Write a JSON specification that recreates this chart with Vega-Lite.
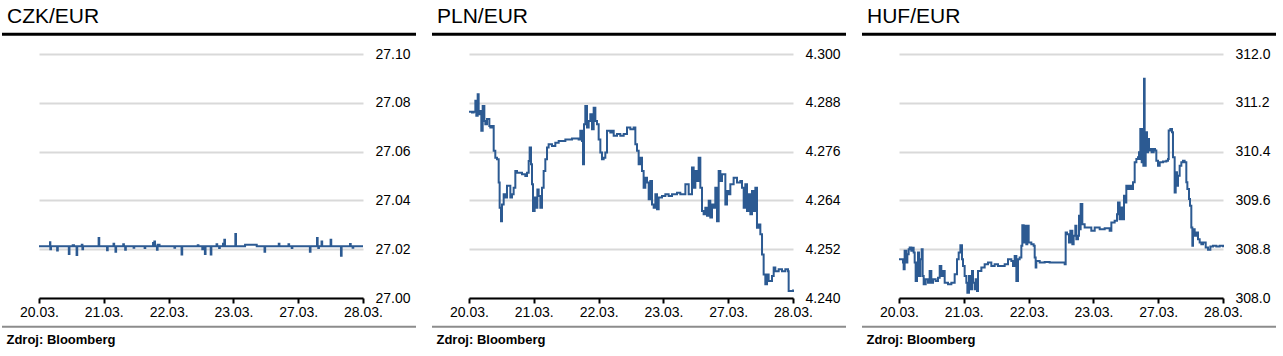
{
  "$schema": "https://vega.github.io/schema/vega-lite/v6.json",
  "padding": {"left": 0, "top": 5, "right": 0, "bottom": 0},
  "background": "white",
  "datasets": {
    "czk": [
      {"t":0.00,"rate":27.0212},{"t":0.16,"rate":27.0212},{"t":0.17,"rate":27.0228},{"t":0.175,"rate":27.0200},{"t":0.185,"rate":27.0212},{"t":0.27,"rate":27.0212},{"t":0.28,"rate":27.0195},{"t":0.29,"rate":27.0212},{"t":0.45,"rate":27.0212},{"t":0.46,"rate":27.0180},{"t":0.47,"rate":27.0212},{"t":0.52,"rate":27.0216},{"t":0.54,"rate":27.0212},{"t":0.58,"rate":27.0176},{"t":0.59,"rate":27.0212},{"t":0.66,"rate":27.0218},{"t":0.67,"rate":27.0200},{"t":0.68,"rate":27.0212},{"t":0.92,"rate":27.0246},{"t":0.93,"rate":27.0212},{"t":1.04,"rate":27.0212},{"t":1.05,"rate":27.0196},{"t":1.06,"rate":27.0212},{"t":1.15,"rate":27.0222},{"t":1.16,"rate":27.0212},{"t":1.18,"rate":27.0190},{"t":1.19,"rate":27.0212},{"t":1.30,"rate":27.0220},{"t":1.31,"rate":27.0212},{"t":1.33,"rate":27.0198},{"t":1.34,"rate":27.0212},{"t":1.45,"rate":27.0212},{"t":1.46,"rate":27.0206},{"t":1.47,"rate":27.0212},{"t":1.62,"rate":27.0212},{"t":1.63,"rate":27.0205},{"t":1.64,"rate":27.0212},{"t":1.76,"rate":27.0225},{"t":1.78,"rate":27.0232},{"t":1.79,"rate":27.0212},{"t":1.82,"rate":27.0198},{"t":1.83,"rate":27.0218},{"t":1.86,"rate":27.0212},{"t":2.08,"rate":27.0212},{"t":2.09,"rate":27.0206},{"t":2.10,"rate":27.0212},{"t":2.20,"rate":27.0178},{"t":2.21,"rate":27.0212},{"t":2.45,"rate":27.0216},{"t":2.46,"rate":27.0212},{"t":2.52,"rate":27.0200},{"t":2.53,"rate":27.0212},{"t":2.56,"rate":27.0180},{"t":2.57,"rate":27.0212},{"t":2.65,"rate":27.0178},{"t":2.66,"rate":27.0212},{"t":2.74,"rate":27.0220},{"t":2.75,"rate":27.0212},{"t":2.78,"rate":27.0205},{"t":2.79,"rate":27.0212},{"t":2.84,"rate":27.0222},{"t":2.86,"rate":27.0239},{"t":2.87,"rate":27.0212},{"t":3.03,"rate":27.0262},{"t":3.04,"rate":27.0212},{"t":3.18,"rate":27.0218},{"t":3.36,"rate":27.0212},{"t":3.48,"rate":27.0190},{"t":3.49,"rate":27.0212},{"t":3.70,"rate":27.0222},{"t":3.71,"rate":27.0212},{"t":3.85,"rate":27.0220},{"t":3.86,"rate":27.0212},{"t":3.90,"rate":27.0205},{"t":3.91,"rate":27.0212},{"t":4.18,"rate":27.0190},{"t":4.19,"rate":27.0212},{"t":4.29,"rate":27.0246},{"t":4.30,"rate":27.0212},{"t":4.31,"rate":27.0205},{"t":4.32,"rate":27.0212},{"t":4.36,"rate":27.0232},{"t":4.37,"rate":27.0212},{"t":4.50,"rate":27.0239},{"t":4.51,"rate":27.0212},{"t":4.66,"rate":27.0173},{"t":4.67,"rate":27.0212},{"t":4.80,"rate":27.0221},{"t":4.81,"rate":27.0212},{"t":4.84,"rate":27.0206},{"t":4.85,"rate":27.0212},{"t":5.00,"rate":27.0212}
    ],
    "pln": [
      {"t":0.000,"rate":4.2858},{"t":0.046,"rate":4.2856},{"t":0.072,"rate":4.2858},{"t":0.098,"rate":4.2885},{"t":0.113,"rate":4.2848},{"t":0.134,"rate":4.2901},{"t":0.149,"rate":4.2852},{"t":0.175,"rate":4.2860},{"t":0.190,"rate":4.2811},{"t":0.211,"rate":4.2872},{"t":0.237,"rate":4.2835},{"t":0.252,"rate":4.2827},{"t":0.278,"rate":4.2840},{"t":0.314,"rate":4.2823},{"t":0.329,"rate":4.2819},{"t":0.355,"rate":4.2823},{"t":0.381,"rate":4.2762},{"t":0.406,"rate":4.2745},{"t":0.432,"rate":4.2741},{"t":0.458,"rate":4.2684},{"t":0.473,"rate":4.2622},{"t":0.494,"rate":4.2589},{"t":0.509,"rate":4.2630},{"t":0.535,"rate":4.2655},{"t":0.561,"rate":4.2647},{"t":0.586,"rate":4.2676},{"t":0.638,"rate":4.2647},{"t":0.664,"rate":4.2655},{"t":0.689,"rate":4.2671},{"t":0.715,"rate":4.2712},{"t":0.741,"rate":4.2708},{"t":0.818,"rate":4.2704},{"t":0.869,"rate":4.2700},{"t":0.895,"rate":4.2708},{"t":0.921,"rate":4.2737},{"t":0.936,"rate":4.2770},{"t":0.957,"rate":4.2729},{"t":0.972,"rate":4.2680},{"t":0.988,"rate":4.2614},{"t":1.013,"rate":4.2647},{"t":1.034,"rate":4.2622},{"t":1.055,"rate":4.2667},{"t":1.075,"rate":4.2651},{"t":1.101,"rate":4.2622},{"t":1.127,"rate":4.2671},{"t":1.152,"rate":4.2712},{"t":1.178,"rate":4.2741},{"t":1.204,"rate":4.2770},{"t":1.229,"rate":4.2778},{"t":1.281,"rate":4.2774},{"t":1.332,"rate":4.2782},{"t":1.384,"rate":4.2786},{"t":1.487,"rate":4.2790},{"t":1.590,"rate":4.2792},{"t":1.692,"rate":4.2790},{"t":1.718,"rate":4.2811},{"t":1.744,"rate":4.2786},{"t":1.759,"rate":4.2729},{"t":1.775,"rate":4.2827},{"t":1.795,"rate":4.2872},{"t":1.821,"rate":4.2819},{"t":1.847,"rate":4.2835},{"t":1.872,"rate":4.2852},{"t":1.898,"rate":4.2815},{"t":1.924,"rate":4.2868},{"t":1.950,"rate":4.2835},{"t":1.975,"rate":4.2827},{"t":2.001,"rate":4.2790},{"t":2.027,"rate":4.2758},{"t":2.052,"rate":4.2741},{"t":2.078,"rate":4.2745},{"t":2.104,"rate":4.2758},{"t":2.130,"rate":4.2811},{"t":2.181,"rate":4.2807},{"t":2.207,"rate":4.2811},{"t":2.233,"rate":4.2799},{"t":2.284,"rate":4.2803},{"t":2.335,"rate":4.2799},{"t":2.387,"rate":4.2803},{"t":2.438,"rate":4.2819},{"t":2.490,"rate":4.2815},{"t":2.541,"rate":4.2819},{"t":2.567,"rate":4.2778},{"t":2.593,"rate":4.2762},{"t":2.618,"rate":4.2729},{"t":2.644,"rate":4.2745},{"t":2.670,"rate":4.2712},{"t":2.695,"rate":4.2671},{"t":2.721,"rate":4.2696},{"t":2.747,"rate":4.2684},{"t":2.773,"rate":4.2643},{"t":2.798,"rate":4.2688},{"t":2.824,"rate":4.2630},{"t":2.850,"rate":4.2622},{"t":2.876,"rate":4.2655},{"t":2.901,"rate":4.2618},{"t":2.927,"rate":4.2647},{"t":2.978,"rate":4.2651},{"t":3.030,"rate":4.2655},{"t":3.081,"rate":4.2651},{"t":3.133,"rate":4.2655},{"t":3.210,"rate":4.2659},{"t":3.261,"rate":4.2655},{"t":3.339,"rate":4.2680},{"t":3.390,"rate":4.2655},{"t":3.441,"rate":4.2721},{"t":3.467,"rate":4.2671},{"t":3.493,"rate":4.2712},{"t":3.519,"rate":4.2688},{"t":3.544,"rate":4.2745},{"t":3.570,"rate":4.2671},{"t":3.596,"rate":4.2614},{"t":3.621,"rate":4.2606},{"t":3.647,"rate":4.2622},{"t":3.673,"rate":4.2602},{"t":3.699,"rate":4.2639},{"t":3.724,"rate":4.2598},{"t":3.750,"rate":4.2630},{"t":3.776,"rate":4.2622},{"t":3.801,"rate":4.2671},{"t":3.827,"rate":4.2589},{"t":3.853,"rate":4.2712},{"t":3.879,"rate":4.2688},{"t":3.904,"rate":4.2704},{"t":3.930,"rate":4.2704},{"t":3.956,"rate":4.2630},{"t":3.981,"rate":4.2663},{"t":4.007,"rate":4.2655},{"t":4.033,"rate":4.2680},{"t":4.084,"rate":4.2696},{"t":4.136,"rate":4.2684},{"t":4.187,"rate":4.2688},{"t":4.213,"rate":4.2671},{"t":4.239,"rate":4.2622},{"t":4.264,"rate":4.2680},{"t":4.290,"rate":4.2614},{"t":4.316,"rate":4.2655},{"t":4.342,"rate":4.2606},{"t":4.367,"rate":4.2663},{"t":4.393,"rate":4.2614},{"t":4.419,"rate":4.2671},{"t":4.444,"rate":4.2573},{"t":4.470,"rate":4.2581},{"t":4.496,"rate":4.2557},{"t":4.522,"rate":4.2507},{"t":4.547,"rate":4.2458},{"t":4.573,"rate":4.2434},{"t":4.599,"rate":4.2458},{"t":4.624,"rate":4.2442},{"t":4.676,"rate":4.2454},{"t":4.702,"rate":4.2475},{"t":4.727,"rate":4.2466},{"t":4.779,"rate":4.2471},{"t":4.830,"rate":4.2466},{"t":4.882,"rate":4.2471},{"t":4.923,"rate":4.2466},{"t":4.933,"rate":4.2417},{"t":4.959,"rate":4.2417},{"t":5.000,"rate":4.2421}
    ],
    "huf": [
      {"t":0.000,"rate":308.636},{"t":0.036,"rate":308.636},{"t":0.062,"rate":308.581},{"t":0.072,"rate":308.471},{"t":0.087,"rate":308.773},{"t":0.113,"rate":308.581},{"t":0.129,"rate":308.718},{"t":0.149,"rate":308.800},{"t":0.165,"rate":308.827},{"t":0.190,"rate":308.773},{"t":0.206,"rate":308.822},{"t":0.226,"rate":308.745},{"t":0.242,"rate":308.581},{"t":0.257,"rate":308.280},{"t":0.278,"rate":308.581},{"t":0.293,"rate":308.745},{"t":0.309,"rate":308.362},{"t":0.329,"rate":308.636},{"t":0.350,"rate":308.800},{"t":0.365,"rate":308.362},{"t":0.381,"rate":308.225},{"t":0.412,"rate":308.307},{"t":0.448,"rate":308.252},{"t":0.473,"rate":308.444},{"t":0.499,"rate":308.252},{"t":0.525,"rate":308.307},{"t":0.566,"rate":308.280},{"t":0.602,"rate":308.334},{"t":0.628,"rate":308.526},{"t":0.653,"rate":308.362},{"t":0.679,"rate":308.444},{"t":0.705,"rate":308.252},{"t":0.756,"rate":308.225},{"t":0.808,"rate":308.252},{"t":0.859,"rate":308.389},{"t":0.895,"rate":308.636},{"t":0.921,"rate":308.745},{"t":0.947,"rate":308.866},{"t":0.972,"rate":308.636},{"t":0.988,"rate":308.526},{"t":1.013,"rate":308.362},{"t":1.039,"rate":308.252},{"t":1.055,"rate":308.088},{"t":1.080,"rate":308.362},{"t":1.101,"rate":308.143},{"t":1.127,"rate":308.444},{"t":1.142,"rate":308.252},{"t":1.168,"rate":308.143},{"t":1.183,"rate":308.307},{"t":1.204,"rate":308.115},{"t":1.219,"rate":308.444},{"t":1.271,"rate":308.499},{"t":1.322,"rate":308.553},{"t":1.373,"rate":308.581},{"t":1.425,"rate":308.526},{"t":1.476,"rate":308.553},{"t":1.528,"rate":308.526},{"t":1.579,"rate":308.526},{"t":1.631,"rate":308.553},{"t":1.682,"rate":308.636},{"t":1.734,"rate":308.608},{"t":1.759,"rate":308.526},{"t":1.785,"rate":308.690},{"t":1.811,"rate":308.280},{"t":1.836,"rate":308.636},{"t":1.862,"rate":308.663},{"t":1.888,"rate":308.855},{"t":1.903,"rate":309.194},{"t":1.924,"rate":308.910},{"t":1.939,"rate":309.184},{"t":1.965,"rate":308.882},{"t":1.980,"rate":309.184},{"t":2.001,"rate":308.910},{"t":2.042,"rate":308.882},{"t":2.078,"rate":308.855},{"t":2.094,"rate":308.663},{"t":2.109,"rate":308.499},{"t":2.119,"rate":308.608},{"t":2.171,"rate":308.581},{"t":2.248,"rate":308.592},{"t":2.325,"rate":308.581},{"t":2.402,"rate":308.581},{"t":2.479,"rate":308.581},{"t":2.557,"rate":308.553},{"t":2.572,"rate":309.074},{"t":2.593,"rate":309.047},{"t":2.623,"rate":308.910},{"t":2.644,"rate":309.101},{"t":2.675,"rate":308.882},{"t":2.695,"rate":309.019},{"t":2.721,"rate":309.184},{"t":2.737,"rate":308.964},{"t":2.762,"rate":309.019},{"t":2.778,"rate":309.348},{"t":2.788,"rate":309.129},{"t":2.803,"rate":309.540},{"t":2.829,"rate":309.211},{"t":2.865,"rate":309.156},{"t":2.917,"rate":309.156},{"t":2.968,"rate":309.101},{"t":3.020,"rate":309.156},{"t":3.097,"rate":309.129},{"t":3.174,"rate":309.145},{"t":3.251,"rate":309.101},{"t":3.277,"rate":309.238},{"t":3.328,"rate":309.266},{"t":3.364,"rate":309.375},{"t":3.380,"rate":309.567},{"t":3.405,"rate":309.293},{"t":3.431,"rate":309.485},{"t":3.457,"rate":309.293},{"t":3.472,"rate":309.677},{"t":3.493,"rate":309.567},{"t":3.508,"rate":309.841},{"t":3.534,"rate":309.786},{"t":3.560,"rate":309.841},{"t":3.585,"rate":309.786},{"t":3.611,"rate":309.896},{"t":3.637,"rate":310.225},{"t":3.663,"rate":310.279},{"t":3.688,"rate":310.307},{"t":3.704,"rate":310.389},{"t":3.714,"rate":310.279},{"t":3.724,"rate":310.772},{"t":3.745,"rate":310.225},{"t":3.755,"rate":310.772},{"t":3.771,"rate":310.170},{"t":3.781,"rate":311.594},{"t":3.791,"rate":310.170},{"t":3.807,"rate":310.718},{"t":3.827,"rate":310.389},{"t":3.843,"rate":310.608},{"t":3.858,"rate":310.416},{"t":3.879,"rate":310.444},{"t":3.899,"rate":310.389},{"t":3.930,"rate":310.444},{"t":3.951,"rate":310.416},{"t":3.971,"rate":310.252},{"t":3.997,"rate":310.170},{"t":4.023,"rate":310.225},{"t":4.074,"rate":310.236},{"t":4.126,"rate":310.252},{"t":4.151,"rate":310.279},{"t":4.162,"rate":310.745},{"t":4.187,"rate":310.772},{"t":4.213,"rate":310.718},{"t":4.228,"rate":310.307},{"t":4.254,"rate":309.731},{"t":4.270,"rate":310.060},{"t":4.290,"rate":309.841},{"t":4.306,"rate":310.005},{"t":4.331,"rate":310.170},{"t":4.357,"rate":310.225},{"t":4.383,"rate":310.252},{"t":4.408,"rate":310.225},{"t":4.434,"rate":309.896},{"t":4.450,"rate":309.786},{"t":4.475,"rate":309.622},{"t":4.491,"rate":309.512},{"t":4.511,"rate":309.156},{"t":4.527,"rate":308.855},{"t":4.537,"rate":309.129},{"t":4.563,"rate":309.019},{"t":4.588,"rate":309.074},{"t":4.614,"rate":308.964},{"t":4.640,"rate":308.910},{"t":4.666,"rate":308.882},{"t":4.691,"rate":308.910},{"t":4.733,"rate":308.827},{"t":4.769,"rate":308.789},{"t":4.805,"rate":308.844},{"t":4.846,"rate":308.855},{"t":4.897,"rate":308.844},{"t":4.949,"rate":308.855},{"t":5.000,"rate":308.833}
    ]
  },
  "hconcat": [
    {
      "width": 324, "height": 244,
      "layer": [
        {"data": {"name": "czk"}, "mark": {"type": "line", "color": "#2c5a92", "strokeWidth": 2, "interpolate": "step-after"},
         "encoding": {
           "x": {"field": "t", "type": "quantitative", "scale": {"domain": [0, 5], "nice": false, "zero": false}, "axis": {"values": [0,1,2,3,4,5], "labelExpr": "['20.03.','21.03.','22.03.','23.03.','27.03.','28.03.'][datum.value]"}},
           "y": {"field": "rate", "type": "quantitative", "scale": {"domain": [27.0, 27.1], "nice": false, "zero": false}, "axis": {"orient": "right", "values": [27.0,27.02,27.04,27.06,27.08,27.1], "format": ".2f"}}}},
        {"data": {"values": [{}]}, "mark": {"type": "text", "text": "CZK/EUR", "font": "Liberation Sans", "fontSize": 21, "align": "left", "baseline": "alphabetic", "color": "#000"},
         "encoding": {"x": {"datum": -0.494, "type": "quantitative"}, "y": {"datum": 27.1128, "type": "quantitative"}}},
        {"data": {"values": [{}]}, "mark": {"type": "rule", "color": "#000", "strokeWidth": 3},
         "encoding": {"x": {"datum": -0.571, "type": "quantitative"}, "x2": {"datum": 5.818}, "y": {"datum": 27.1081, "type": "quantitative"}}},
        {"data": {"values": [{}]}, "mark": {"type": "rule", "color": "#8c8c8c", "strokeWidth": 2},
         "encoding": {"x": {"datum": -0.571, "type": "quantitative"}, "x2": {"datum": 5.818}, "y": {"datum": 26.9882, "type": "quantitative"}}},
        {"data": {"values": [{}]}, "mark": {"type": "text", "text": "Zdroj: Bloomberg", "font": "Liberation Sans", "fontSize": 13, "fontWeight": "bold", "align": "left", "baseline": "alphabetic", "color": "#000"},
         "encoding": {"x": {"datum": -0.502, "type": "quantitative"}, "y": {"datum": 26.9810, "type": "quantitative"}}}
      ]
    },
    {
      "width": 324, "height": 244,
      "layer": [
        {"data": {"name": "pln"}, "mark": {"type": "line", "color": "#2c5a92", "strokeWidth": 2, "interpolate": "step-after"},
         "encoding": {
           "x": {"field": "t", "type": "quantitative", "scale": {"domain": [0, 5], "nice": false, "zero": false}, "axis": {"values": [0,1,2,3,4,5], "labelExpr": "['20.03.','21.03.','22.03.','23.03.','27.03.','28.03.'][datum.value]"}},
           "y": {"field": "rate", "type": "quantitative", "scale": {"domain": [4.24, 4.30], "nice": false, "zero": false}, "axis": {"orient": "right", "values": [4.24,4.252,4.264,4.276,4.288,4.3], "format": ".3f"}}}},
        {"data": {"values": [{}]}, "mark": {"type": "text", "text": "PLN/EUR", "font": "Liberation Sans", "fontSize": 21, "align": "left", "baseline": "alphabetic", "color": "#000"},
         "encoding": {"x": {"datum": -0.494, "type": "quantitative"}, "y": {"datum": 4.3077, "type": "quantitative"}}},
        {"data": {"values": [{}]}, "mark": {"type": "rule", "color": "#000", "strokeWidth": 3},
         "encoding": {"x": {"datum": -0.571, "type": "quantitative"}, "x2": {"datum": 5.818}, "y": {"datum": 4.30484, "type": "quantitative"}}},
        {"data": {"values": [{}]}, "mark": {"type": "rule", "color": "#8c8c8c", "strokeWidth": 2},
         "encoding": {"x": {"datum": -0.571, "type": "quantitative"}, "x2": {"datum": 5.818}, "y": {"datum": 4.23294, "type": "quantitative"}}},
        {"data": {"values": [{}]}, "mark": {"type": "text", "text": "Zdroj: Bloomberg", "font": "Liberation Sans", "fontSize": 13, "fontWeight": "bold", "align": "left", "baseline": "alphabetic", "color": "#000"},
         "encoding": {"x": {"datum": -0.502, "type": "quantitative"}, "y": {"datum": 4.22861, "type": "quantitative"}}}
      ]
    },
    {
      "width": 324, "height": 244,
      "layer": [
        {"data": {"name": "huf"}, "mark": {"type": "line", "color": "#2c5a92", "strokeWidth": 2, "interpolate": "step-after"},
         "encoding": {
           "x": {"field": "t", "type": "quantitative", "scale": {"domain": [0, 5], "nice": false, "zero": false}, "axis": {"values": [0,1,2,3,4,5], "labelExpr": "['20.03.','21.03.','22.03.','23.03.','27.03.','28.03.'][datum.value]"}},
           "y": {"field": "rate", "type": "quantitative", "scale": {"domain": [308.0, 312.0], "nice": false, "zero": false}, "axis": {"orient": "right", "values": [308.0,308.8,309.6,310.4,311.2,312.0], "format": ".1f"}}}},
        {"data": {"values": [{}]}, "mark": {"type": "text", "text": "HUF/EUR", "font": "Liberation Sans", "fontSize": 21, "align": "left", "baseline": "alphabetic", "color": "#000"},
         "encoding": {"x": {"datum": -0.494, "type": "quantitative"}, "y": {"datum": 312.513, "type": "quantitative"}}},
        {"data": {"values": [{}]}, "mark": {"type": "rule", "color": "#000", "strokeWidth": 3},
         "encoding": {"x": {"datum": -0.571, "type": "quantitative"}, "x2": {"datum": 5.818}, "y": {"datum": 312.323, "type": "quantitative"}}},
        {"data": {"values": [{}]}, "mark": {"type": "rule", "color": "#8c8c8c", "strokeWidth": 2},
         "encoding": {"x": {"datum": -0.571, "type": "quantitative"}, "x2": {"datum": 5.818}, "y": {"datum": 307.5295, "type": "quantitative"}}},
        {"data": {"values": [{}]}, "mark": {"type": "text", "text": "Zdroj: Bloomberg", "font": "Liberation Sans", "fontSize": 13, "fontWeight": "bold", "align": "left", "baseline": "alphabetic", "color": "#000"},
         "encoding": {"x": {"datum": -0.502, "type": "quantitative"}, "y": {"datum": 307.241, "type": "quantitative"}}}
      ]
    }
  ],
  "spacing": 106,
  "bounds": "flush",
  "config": {
    "view": {"stroke": null},
    "axis": {"title": null, "labelFont": "Liberation Sans", "labelFontSize": 14, "labelColor": "#000", "labelFlush": false, "labelOverlap": false},
    "axisX": {"grid": false, "domainColor": "#000", "domainWidth": 2, "tickColor": "#000", "tickWidth": 2, "tickSize": 5, "labelPadding": 2},
    "axisY": {"grid": true, "gridColor": "#d9d9d9", "gridWidth": 2, "ticks": false, "domain": false, "labelAlign": "left", "labelPadding": 12, "labelBaseline": "middle"}
  }
}
